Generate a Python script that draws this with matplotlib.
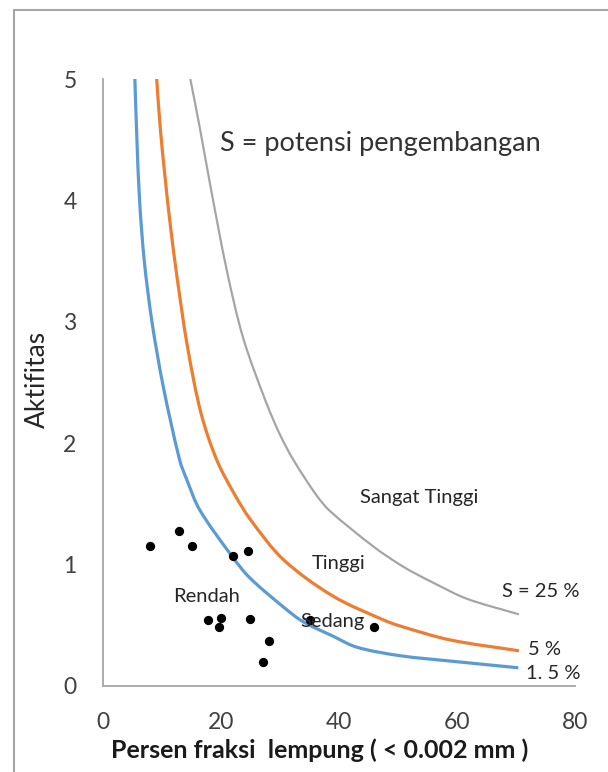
import matplotlib
matplotlib.use("Agg")
import matplotlib.pyplot as plt
import numpy as np
from matplotlib.patches import Rectangle, PathPatch
from matplotlib.path import Path

plt.rcParams['font.family'] = ['Lato', 'DejaVu Sans']

# S = 1.5 %
x_low = [5.4, 5.75, 6.2, 7.0, 8.3, 10.2, 13.0, 14.2, 16.4, 22.0, 24.9, 30.6, 33.9, 39.0, 43.0, 50.3, 60.0, 70.4]
y_low = [5.0, 4.5, 4.0, 3.5, 3.0, 2.47, 1.86, 1.70, 1.45, 1.06, 0.89, 0.65, 0.53, 0.41, 0.32, 0.25, 0.20, 0.15]

# S = 5 %
x_mid = [9.1, 9.7, 10.5, 11.4, 12.6, 14.3, 16.6, 19.3, 22.4, 25.0, 30.6, 39.0, 47.5, 50.3, 58.8, 70.5]
y_mid = [5.0, 4.6, 4.2, 3.8, 3.35, 2.8, 2.25, 1.86, 1.57, 1.37, 1.04, 0.74, 0.545, 0.495, 0.38, 0.29]

# S = 25 %
x_high = [14.8, 16.4, 18.2, 21.0, 23.8, 27.7, 30.0, 32.3, 36.2, 38.5, 45.8, 50.3, 53.2, 56.0, 61.6, 70.5]
y_high = [5.0, 4.6, 4.12, 3.42, 2.86, 2.33, 2.07, 1.86, 1.57, 1.44, 1.15, 1.00, 0.92, 0.85, 0.72, 0.59]

# sample points
clay_pct = [7.9, 12.8, 15.0, 22.1, 24.5, 17.8, 20.0, 19.7, 24.9, 28.1, 27.1, 35.1, 45.9]
activity = [1.15, 1.28, 1.15, 1.07, 1.11, 0.54, 0.56, 0.49, 0.55, 0.37, 0.20, 0.54, 0.49]


def smooth_path(ax, x, y):
    # smoothed line like excel, bezier segments through the points
    # (tangents worked out in pixel space so the uneven spacing doesn't kink)
    p = ax.transData.transform(np.column_stack([x, y]))
    n = len(p)
    seg = np.hypot(*np.diff(p, axis=0).T)
    t = np.concatenate([[0], np.cumsum(seg)])
    m = np.zeros_like(p)
    m[0] = (p[1] - p[0]) / seg[0]
    m[-1] = (p[-1] - p[-2]) / seg[-1]
    for i in range(1, n - 1):
        m[i] = (p[i + 1] - p[i - 1]) / (t[i + 1] - t[i - 1])
    verts = [p[0]]
    codes = [Path.MOVETO]
    for i in range(n - 1):
        h = seg[i] / 3
        verts += [p[i] + m[i] * h, p[i + 1] - m[i + 1] * h, p[i + 1]]
        codes += [Path.CURVE4] * 3
    verts = ax.transData.inverted().transform(np.array(verts))
    return Path(verts, codes)


fig = plt.figure(figsize=(6.08, 7.72), dpi=100)
ax = fig.add_axes([103/608, 1 - 686/772, 472/608, 607/772])
ax.set_xlim(0, 80)
ax.set_ylim(0, 5)

# outer frame like the excel chart area
fig.patches.append(Rectangle((14/608, -0.1), 1.2, 1.1 - 10/772, transform=fig.transFigure,
                             fill=False, edgecolor='#a6a6a6', linewidth=1.5))

for xs, ys, c, w in [(x_low, y_low, '#5B9BD5', 2.3),
                     (x_mid, y_mid, '#ED7D31', 2.3),
                     (x_high, y_high, '#A5A5A5', 1.6)]:
    ax.add_patch(PathPatch(smooth_path(ax, xs, ys), facecolor='none', edgecolor=c,
                           lw=w, capstyle='butt'))
ax.scatter(clay_pct, activity, s=32, color='black', zorder=3)

ax.set_xticks([0, 20, 40, 60, 80])
ax.set_yticks([0, 1, 2, 3, 4, 5])
ax.tick_params(length=0, labelsize=16.5, labelcolor='#404040')
ax.tick_params(axis='y', pad=19)
ax.tick_params(axis='x', pad=19)
for s in ['top', 'right']:
    ax.spines[s].set_visible(False)
for s in ['left', 'bottom']:
    ax.spines[s].set_color('#a6a6a6')
    ax.spines[s].set_linewidth(1.3)

ax.set_ylabel('Aktifitas', fontsize=19, color='#262626', va='center')
ax.yaxis.set_label_coords(-0.138, 0.505)
ax.set_xlabel('Persen fraksi  lempung ( < 0.002 mm )', fontsize=18, fontweight='bold',
              color='#1a1a1a', va='center')
ax.xaxis.set_label_coords(0.46, -0.105)

tc = '#262626'
ax.text(19.8, 4.47, 'S = potensi pengembangan', fontsize=19.5, color='#333333', va='center')
ax.text(43.6, 1.55, 'Sangat Tinggi', fontsize=14.5, color=tc, va='center')
ax.text(35.4, 1.01, 'Tinggi', fontsize=14.5, color=tc, va='center')
ax.text(33.4, 0.53, 'Sedang', fontsize=14.5, color=tc, va='center')
ax.text(11.9, 0.74, 'Rendah', fontsize=14.5, color=tc, va='center')
ax.text(67.6, 0.78, 'S = 25 %', fontsize=14.5, color=tc, va='center')
ax.text(72.0, 0.30, '5 %', fontsize=14.5, color=tc, va='center')
ax.text(71.7, 0.10, '1. 5 %', fontsize=14.5, color=tc, va='center')

fig.savefig('out.png', dpi=100)
